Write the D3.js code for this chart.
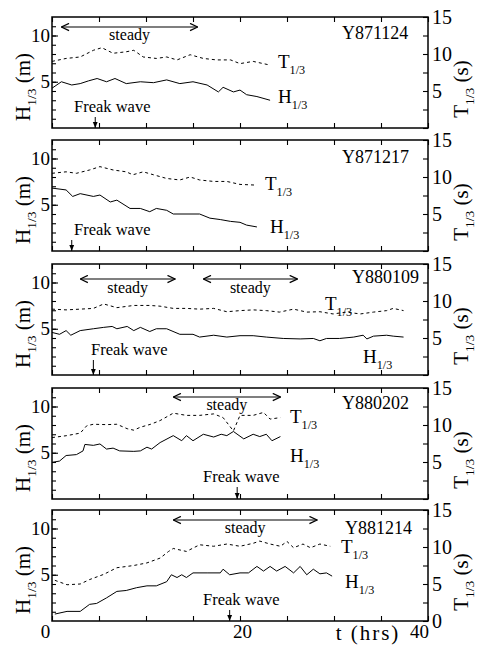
<!DOCTYPE html>
<html>
<head>
<meta charset="utf-8">
<script src="https://cdn.jsdelivr.net/npm/d3@7"></script>
<style>
  body { margin: 0; background: #fff; }
  svg { display: block; }
</style>
</head>
<body>
<svg id="chart"></svg>
<script>
// Five storm records: significant wave height H1/3 (solid, left axis)
// and period T1/3 (dashed, right axis) against time in hours.
const W = 490, H = 648;
const FONT = "Liberation Serif, Times New Roman, DejaVu Serif, serif";

const runs = ["Y871124", "Y871217", "Y880109", "Y880202", "Y881214"];
const hourTicks = d3.range(0, 41, 5);
const hourLabels = [0, 20, 40];
const heightTicks = d3.range(0, 13, 1);
const heightLabels = [5, 10];
const periodTicks = d3.range(0, 15.1, 2.5);
const periodLabels = [5, 10, 15];

// [t (hrs), H1/3 (m)]
const h871124 = [[0,4.3],[1,5.0],[2.1,4.65],[3,4.8],[3.9,5.1],[4.8,5.35],[5.8,5.0],[6.7,5.35],[7.9,4.8],[9.4,5.0],[10.8,4.9],[12.2,5.2],[13.6,4.8],[15,5.0],[16.5,4.65],[17.7,3.9],[18.2,4.4],[19.3,3.9],[20,4.1],[20.7,3.6],[21.8,3.4],[23.2,3.0]];
const h871217 = [[0,6.8],[1.5,6.6],[2.2,5.9],[3,6.2],[4.4,5.9],[5.1,6.05],[6.2,5.3],[6.9,5.5],[8.3,4.6],[9.4,4.6],[10.4,4.25],[11.1,4.6],[12.2,4.4],[12.9,4.0],[15.7,4.0],[16.8,3.55],[17.9,3.4],[19,3.2],[20,3.1],[20.7,2.8],[21.8,2.6]];
const h880109 = [[0,4.6],[0.8,4.4],[1.5,4.8],[2,4.3],[3,4.8],[4.4,5.0],[5.5,5.15],[6.4,5.25],[6.9,5.0],[8,5.25],[8.7,4.8],[9.4,5.15],[10.4,4.7],[11.1,5.0],[12.2,5.0],[13.6,4.4],[15,4.4],[15.7,4.1],[17.2,4.3],[18.6,4.1],[20,4.25],[21.4,4.25],[22.8,4.1],[24.6,3.95],[26.4,3.9],[27.8,3.95],[28.5,3.7],[29.2,3.95],[30.6,3.95],[32.1,4.1],[33.1,4.3],[33.5,3.9],[34.2,4.2],[35.6,4.3],[36.3,4.2],[37.4,4.1]];
const h880202 = [[0,3.96],[0.8,4.1],[1.5,4.7],[2.6,4.8],[3.3,5.2],[3.5,5.9],[4.4,5.8],[5.1,5.95],[5.8,5.4],[6.5,5.5],[7.2,5.2],[8.7,5.15],[9.4,5.2],[10.1,5.6],[10.6,5.4],[11.5,6.1],[12.9,6.85],[13.8,6.3],[14.3,6.85],[15,6.3],[16.1,7.0],[17.2,6.7],[18,7.0],[18.6,6.85],[19.3,7.3],[20.4,6.5],[21.4,7.0],[22.1,6.75],[22.8,7.0],[23.4,6.3],[24.3,6.75]];
const h881214 = [[0.3,0.75],[1.6,1.04],[3,1.04],[4,1.8],[4.75,1.9],[5.8,2.5],[6.9,3.2],[7.9,3.3],[9,3.6],[10.1,3.8],[11.1,3.8],[12.2,4.25],[12.7,5.0],[13.3,4.7],[13.8,5.0],[14.3,4.7],[15,5.2],[16.5,5.2],[17.9,5.2],[18.2,5.6],[18.9,5.0],[20,5.2],[20.9,5.2],[21.8,5.9],[22.5,5.4],[23.2,5.9],[23.9,5.4],[24.8,5.9],[25.7,5.2],[26.4,5.9],[27.1,5.0],[27.8,5.6],[28.5,5.1],[29.2,5.2],[29.8,4.85]];

// [t (hrs), T1/3 (s)]
const t871124 = [[0,9.0],[1.5,9.4],[3,9.6],[4.4,10.5],[5.3,10.85],[6.5,10.1],[7.9,10.3],[8.7,10.5],[9.7,9.6],[11.1,9.4],[12.2,9.6],[13.3,9.2],[14.7,9.9],[16.1,9.4],[17.5,9.2],[19,9.2],[20,8.7],[21.4,9.0],[23.2,8.5]];
const t871217 = [[0,10.5],[1.5,10.7],[2.6,10.5],[4,10.95],[5.1,11.4],[6.5,10.95],[7.9,10.7],[8.6,10.3],[9.7,10.7],[10.8,10.3],[12.2,9.8],[13.6,9.6],[14.7,10.0],[15.7,9.6],[17.2,9.4],[18.6,9.4],[20,9.0],[21.8,8.9]];
const t880109 = [[0,8.9],[1.5,8.8],[3,8.9],[4.4,9.0],[5.5,9.6],[6.9,9.1],[8.7,9.4],[10.4,9.4],[11.5,9.3],[12.9,9.0],[14.3,9.0],[15.7,8.9],[17.2,9.0],[18.6,8.55],[20,8.7],[21.4,8.8],[22.8,8.7],[24.2,8.5],[25.7,8.9],[27.1,8.5],[28.5,8.55],[29.9,8.25],[31.3,8.5],[32.8,8.25],[34.2,8.5],[35.6,8.7],[36.3,9.0],[37.4,8.7]];
const t880202 = [[0,8.3],[1.5,8.55],[3,8.9],[3.7,9.9],[4.4,10.1],[5.8,10.05],[6.9,10.1],[8,9.5],[8.7,9.3],[9.4,9.7],[10.5,10.1],[11.5,10.6],[12.9,11.6],[14.3,11.3],[15.7,11.3],[17.2,11.5],[18.2,11.0],[19.3,9.2],[20,11.3],[21.4,11.3],[22.5,11.7],[23.2,10.8],[24.3,11.0]];
const t881214 = [[0.3,5.5],[1.6,4.9],[3,5.0],[4,5.6],[5.5,6.3],[6.9,7.2],[8.7,7.5],[10.1,7.85],[11.5,8.5],[12.4,9.4],[12.9,9.8],[14.3,9.4],[15.7,10.3],[17.2,10.1],[18.6,10.4],[20,10.1],[21.4,10.5],[22.1,10.8],[23.2,10.4],[24.3,10.1],[25,10.75],[25.7,9.9],[26.7,10.4],[27.5,9.9],[28.5,10.4],[29.6,10.1]];

const heightSeries = [h871124, h871217, h880109, h880202, h881214];
const periodSeries = [t871124, t871217, t880109, t880202, t881214];
const steadySpans = [[[1, 15.5]], [], [[3, 13.1], [16.1, 26.1]], [[12.9, 24.3]], [[12.9, 28.2]]];
const freakTimes = [4.6, 2.1, 4.4, 19.7, 18.9];

// layout (pixels, relative to each panel top)
const panelTops = [17, 140, 264, 388, 510];
const panelH = 111;
const notes = [
  { idX: 342, idY: 22, tX: 278, tY: 51, hX: 278, hY: 86, fX: 74, fY: 95, sY: 10, sT: 23 },
  { idX: 342, idY: 23, tX: 265, tY: 50, hX: 270, hY: 93, fX: 74, fY: 95, sY: 10, sT: 23 },
  { idX: 352, idY: 19, tX: 325, tY: 46, hX: 363, hY: 99, fX: 91, fY: 91, sY: 15, sT: 29 },
  { idX: 342, idY: 21, tX: 290, tY: 35, hX: 290, hY: 74, fX: 203, fY: 94, sY: 9, sT: 22 },
  { idX: 345, idY: 24, tX: 341, tY: 43, hX: 345, hY: 78, fX: 203, fY: 95, sY: 10, sT: 23 },
];
const hourLabelShift = { 0: -7, 20: 2, 40: -9 };

const svg = d3.select("#chart").attr("width", W).attr("height", H)
  .attr("viewBox", `0 0 ${W} ${H}`)
  .attr("font-family", FONT);

const defs = svg.append("defs");
defs.append("marker").attr("id", "open")
  .attr("viewBox", "0 0 10 10").attr("refX", 9.5).attr("refY", 5)
  .attr("markerWidth", 9).attr("markerHeight", 9).attr("markerUnits", "userSpaceOnUse")
  .attr("orient", "auto-start-reverse")
  .append("path").attr("d", "M1,1 L9.5,5 L1,9")
  .attr("fill", "none").attr("stroke", "#000").attr("stroke-width", 1.4);
defs.append("marker").attr("id", "solid")
  .attr("viewBox", "0 0 10 10").attr("refX", 10).attr("refY", 5)
  .attr("markerWidth", 6).attr("markerHeight", 6).attr("markerUnits", "userSpaceOnUse")
  .attr("orient", "auto")
  .append("path").attr("d", "M0,1 L10,5 L0,9 z").attr("fill", "#000");

const x = d3.scaleLinear().domain([0, 40]).range([52, 428]);

// text with a "1/3" subscript
function subText(sel, main, size, tail) {
  const t = sel.append("text").attr("font-size", size).attr("fill", "#000");
  t.append("tspan").text(main);
  t.append("tspan").attr("font-size", size * 0.64).attr("dy", size * 0.3).text("1/3");
  if (tail) t.append("tspan").attr("dy", -size * 0.3).text(tail);
  return t;
}

function styleAxis(g, size) {
  g.attr("font-family", FONT).attr("font-size", size);
  g.select(".domain").remove();
  g.selectAll(".tick line").attr("stroke", "#000").attr("stroke-width", 1.1);
  g.selectAll(".tick text").attr("fill", "#000");
}

runs.forEach((run, i) => {
  const top = panelTops[i], bottom = top + panelH;
  const n = notes[i];
  const last = i === runs.length - 1;
  const yH = d3.scaleLinear().domain([0, 12]).range([bottom, top]);
  const yT = d3.scaleLinear().domain([0, 15]).range([bottom, top]);
  const g = svg.append("g").attr("class", "panel");

  // left axis: minor every 1 m, labelled 5 and 10
  g.append("g").attr("transform", `translate(${x(0)},0)`)
    .call(d3.axisLeft(yH).tickValues(heightTicks.filter(v => v > 0 && v < 12))
      .tickSize(-4).tickFormat(""))
    .call(a => styleAxis(a, 19));
  g.append("g").attr("transform", `translate(${x(0)},0)`)
    .call(d3.axisLeft(yH).tickValues(heightLabels).tickSize(-6).tickPadding(2))
    .call(a => styleAxis(a, 19));

  // right axis: every 2.5 s
  const tl = last ? [0, ...periodLabels] : periodLabels;
  g.append("g").attr("transform", `translate(${x(40)},0)`)
    .call(d3.axisRight(yT).tickValues(periodTicks).tickSize(-5)
      .tickPadding(4).tickFormat(d => tl.includes(d) ? d : ""))
    .call(a => styleAxis(a, 20));

  // time axis ticks top and bottom
  g.append("g").attr("transform", `translate(0,${top})`)
    .call(d3.axisTop(x).tickValues(hourTicks).tickSize(-5).tickFormat(""))
    .call(a => styleAxis(a, 20));
  g.append("g").attr("transform", `translate(0,${bottom})`)
    .call(d3.axisBottom(x).tickValues(hourTicks).tickSize(-5).tickPadding(4)
      .tickFormat(d => last && hourLabels.includes(d) ? d : ""))
    .call(a => styleAxis(a, 19))
    .call(a => a.selectAll(".tick text").attr("dx", d => hourLabelShift[d] || 0));

  g.append("rect").attr("x", x(0)).attr("y", top)
    .attr("width", x(40) - x(0)).attr("height", panelH)
    .attr("fill", "none").attr("stroke", "#000").attr("stroke-width", 1.5);

  // series
  g.append("path").datum(periodSeries[i])
    .attr("d", d3.line().x(d => x(d[0])).y(d => yT(d[1])))
    .attr("fill", "none").attr("stroke", "#000").attr("stroke-width", 1)
    .attr("stroke-dasharray", "3,3");
  g.append("path").datum(heightSeries[i])
    .attr("d", d3.line().x(d => x(d[0])).y(d => yH(d[1])))
    .attr("fill", "none").attr("stroke", "#000").attr("stroke-width", 1);

  // steady intervals
  steadySpans[i].forEach(([a, b]) => {
    g.append("line").attr("x1", x(a)).attr("x2", x(b))
      .attr("y1", top + n.sY).attr("y2", top + n.sY)
      .attr("stroke", "#000").attr("stroke-width", 1.2)
      .attr("marker-start", "url(#open)").attr("marker-end", "url(#open)");
    g.append("text").attr("x", (x(a) + x(b)) / 2).attr("y", top + n.sT)
      .attr("text-anchor", "middle").attr("font-size", 16).text("steady");
  });

  // labels
  g.append("text").attr("x", n.idX).attr("y", top + n.idY)
    .attr("font-size", 18).text(run);
  subText(g, "T", 19, null).attr("x", n.tX).attr("y", top + n.tY);
  subText(g, "H", 19, null).attr("x", n.hX).attr("y", top + n.hY);

  // freak wave marker
  g.append("text").attr("x", n.fX).attr("y", top + n.fY)
    .attr("font-size", 16.5).text("Freak wave");
  g.append("line").attr("x1", x(freakTimes[i])).attr("x2", x(freakTimes[i]))
    .attr("y1", top + n.fY + 5).attr("y2", bottom)
    .attr("stroke", "#000").attr("stroke-width", 1)
    .attr("marker-end", "url(#solid)");

  // axis titles
  subText(g, "H", 21, " (m)")
    .attr("text-anchor", "middle")
    .attr("transform", `translate(30,${top + 70}) rotate(-90)`);
  subText(g, "T", 21, " (s)")
    .attr("text-anchor", "middle")
    .attr("transform", `translate(468,${top + 72}) rotate(-90)`);
});

svg.append("text").attr("x", 368).attr("y", 640)
  .attr("text-anchor", "middle").attr("font-size", 21)
  .attr("letter-spacing", 2).text("t (hrs)");
</script>
</body>
</html>
